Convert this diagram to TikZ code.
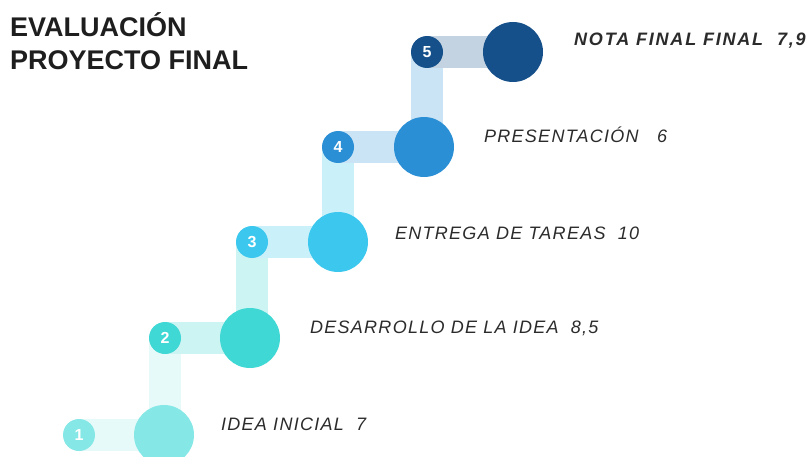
\documentclass[tikz,border=0pt]{standalone}
\usepackage{fontspec}
\setmainfont{Liberation Sans}
\newfontfamily\lblfont{Liberation Sans}[LetterSpace=7]
\newfontfamily\notafont{Liberation Sans}[LetterSpace=10]
\definecolor{cA}{HTML}{86E8E6}
\definecolor{cB}{HTML}{40D8D4}
\definecolor{cC}{HTML}{3CC8EE}
\definecolor{cD}{HTML}{2B8FD6}
\definecolor{cE}{HTML}{15508A}
\definecolor{txt}{HTML}{2B2B2B}
\definecolor{ttlc}{HTML}{1E1E1E}
\tikzset{
  big/.style={circle,fill=#1,minimum size=60pt,inner sep=0pt},
  small/.style={circle,fill=#1,minimum size=32pt,inner sep=0pt,text=white,font=\fontsize{16}{16}\selectfont\bfseries},
  hbar/.style={line width=32pt,draw=#1},
  lbl/.style={anchor=base west,text=txt,font=\fontsize{18}{20}\selectfont\lblfont\itshape,inner sep=0pt},
  ttl/.style={anchor=base west,text=ttlc,font=\fontsize{27}{30}\selectfont\bfseries,inner sep=0pt}
}
\begin{document}
\begin{tikzpicture}[x=1pt,y=-1pt]
\useasboundingbox (0,0) rectangle (810,457);
\clip (0,0) rectangle (810,457);
% coordinates
\coordinate (s1) at (79,435);  \coordinate (b1) at (164,435);
\coordinate (s2) at (165,338); \coordinate (b2) at (250,338);
\coordinate (s3) at (252,242); \coordinate (b3) at (338,242);
\coordinate (s4) at (338,147); \coordinate (b4) at (424,147);
\coordinate (s5) at (427,52);  \coordinate (b5) at (513,52);
% bars
\draw[hbar=cA!20!white] (s1) -- (b1);
\draw[hbar=cA!20!white] (s2 |- b1) -- (s2);
\draw[hbar=cB!27!white] (s2) -- (b2);
\draw[hbar=cB!27!white] (s3 |- b2) -- (s3);
\draw[hbar=cC!27!white] (s3) -- (b3);
\draw[hbar=cC!27!white] (s4 |- b3) -- (s4);
\draw[hbar=cD!25!white] (s4) -- (b4);
\draw[hbar=cD!25!white] (s5 |- b4) -- (s5);
\draw[hbar=cE!25!white] (s5) -- (b5);
% circles
\node[big=cA] (B1) at (b1) {};
\node[big=cB] (B2) at (b2) {};
\node[big=cC] (B3) at (b3) {};
\node[big=cD] (B4) at (b4) {};
\node[big=cE] (B5) at (b5) {};
\node[small=cA] (S1) at (s1) {1};
\node[small=cB] (S2) at (s2) {2};
\node[small=cC] (S3) at (s3) {3};
\node[small=cD] (S4) at (s4) {4};
\node[small=cE] (S5) at (s5) {5};
% labels
\node[lbl] (L1) at (221,430) {IDEA INICIAL\hspace{6pt} 7};
\node[lbl] (L2) at (310,333) {DESARROLLO DE LA IDEA\hspace{6pt} 8,5};
\node[lbl] (L3) at (395,239) {ENTREGA DE TAREAS\hspace{6pt} 10};
\node[lbl] (L4) at (484,143) {PRESENTACIÓN\hspace{12pt} 6};
\node[lbl,font=\fontsize{18}{20}\selectfont\notafont\bfseries\itshape] (L5) at (574,46) {NOTA FINAL FINAL\hspace{7pt} 7,9};
% title
\node[ttl] (T1) at (10,37) {EVALUACIÓN};
\node[ttl] (T2) at (10,70) {PROYECTO FINAL};
\end{tikzpicture}
\end{document}
